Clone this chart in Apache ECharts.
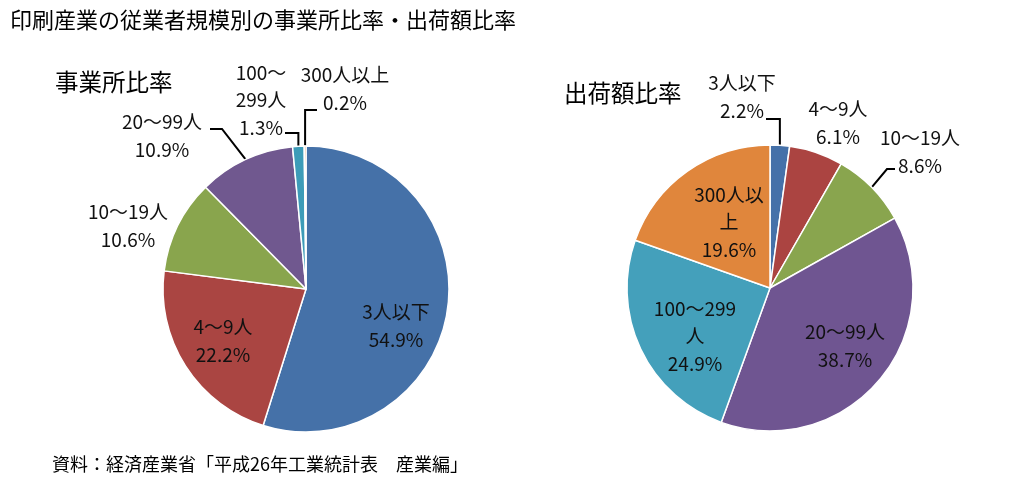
<!DOCTYPE html>
<html>
<head>
<meta charset="utf-8">
<title>印刷産業の従業者規模別の事業所比率・出荷額比率</title>
<script src="https://cdn.jsdelivr.net/npm/echarts@6/dist/echarts.min.js"></script>
<style>
  html, body { margin: 0; padding: 0; background: #fff; }
  #chart { width: 1024px; height: 487px; }
</style>
</head>
<body>
<div id="chart"></div>
<script>
// 従業者規模
const categories = ['3人以下', '4～9人', '10～19人', '20～99人', '100～299人', '300人以上']
// 事業所比率 (%)
const officeShare = [54.9, 22.2, 10.6, 10.9, 1.3, 0.2]
// 出荷額比率 (%)
const shipmentShare = [2.2, 6.1, 8.6, 38.7, 24.9, 19.6]
// ラベルの改行位置（元図どおり）
const officeLabelNames = ['3人以下', '4～9人', '10～19人', '20～99人', '100～\n299人', '300人以上']
const shipmentLabelNames = ['3人以下', '4～9人', '10～19人', '20～99人', '100～299\n人', '300人以\n上']

const FONT = "'Noto Sans CJK JP', 'Noto Sans', sans-serif"

// 配色
const officeColors = ['#4571a8', '#aa4542', '#89a54d', '#70588f', '#3d9cb8', '#db843d']
const shipmentColors = ['#4571a9', '#ab4441', '#89a54e', '#6f5591', '#44a0bb', '#e0863c']

// ラベル位置と引き出し線
const officeLabelPos = [
  { x: 396, y: 326, inside: true },
  { x: 223, y: 341, inside: true },
  { x: 128, y: 226 },
  { x: 162, y: 136, line: { turnX: 222, y: 129, endX: 210 } },
  { x: 261, y: 100, line: { y: 133, endX: 285 } },
  { x: 345, y: 89, line: { y: 110, endX: 317 } }
]
const shipmentLabelPos = [
  { x: 742, y: 97, line: { y: 119, endX: 766 } },
  { x: 838, y: 123 },
  { x: 920, y: 152, line: { turnX: 887, y: 169, endX: 895 } },
  { x: 845, y: 346, inside: true },
  { x: 695, y: 336, inside: true },
  { x: 729, y: 222, inside: true }
]

function buildSeries(values, labelNames, layout, colors, center) {
  return {
    type: 'pie',
    center: center,
    radius: 143,
    startAngle: 90,
    clockwise: true,
    avoidLabelOverlap: false,
    animation: false,
    silent: true,
    itemStyle: { borderColor: '#fff', borderWidth: 1.5 },
    label: {
      formatter: p => labelNames[p.dataIndex] + '\n' + p.value.toFixed(1) + '%',
      fontFamily: FONT,
      fontSize: 19,
      lineHeight: 27.5,
      color: '#111',
      textBorderWidth: 0
    },
    labelLine: { show: true, lineStyle: { color: '#000', width: 2 } },
    labelLayout: function (params) {
      const pos = layout[params.dataIndex]
      const res = { x: pos.x, y: pos.y, align: 'center', verticalAlign: 'middle' }
      if (pos.line && params.labelLinePoints) {
        const p0 = params.labelLinePoints[0]
        const tx = pos.line.turnX != null ? pos.line.turnX : p0[0]
        res.labelLinePoints = [p0, [tx, pos.line.y], [pos.line.endX, pos.line.y]]
      }
      return res
    },
    data: values.map((v, i) => ({
      name: categories[i],
      value: v,
      itemStyle: { color: colors[i] },
      label: { position: layout[i].inside ? 'inside' : 'outside' },
      labelLine: { show: !!layout[i].line }
    }))
  }
}

const chart = echarts.init(document.getElementById('chart'))

chart.setOption({
  backgroundColor: '#fff',
  animation: false,
  title: [
    {
      text: '印刷産業の従業者規模別の事業所比率・出荷額比率',
      left: 10, top: 9, padding: 0,
      textStyle: { fontFamily: FONT, fontSize: 22, fontWeight: 'normal', color: '#000' }
    },
    {
      text: '事業所比率',
      left: 55, top: 70, padding: 0,
      textStyle: { fontFamily: FONT, fontSize: 23.5, fontWeight: 'normal', color: '#000' }
    },
    {
      text: '出荷額比率',
      left: 564, top: 81, padding: 0,
      textStyle: { fontFamily: FONT, fontSize: 23.5, fontWeight: 'normal', color: '#000' }
    },
    {
      text: '資料：経済産業省「平成26年工業統計表　産業編」',
      left: 52, top: 455, padding: 0,
      textStyle: { fontFamily: FONT, fontSize: 18, fontWeight: 'normal', color: '#000' }
    }
  ],
  series: [
    buildSeries(officeShare, officeLabelNames, officeLabelPos, officeColors, [306, 289]),
    buildSeries(shipmentShare, shipmentLabelNames, shipmentLabelPos, shipmentColors, [770, 288])
  ]
})
</script>
</body>
</html>
